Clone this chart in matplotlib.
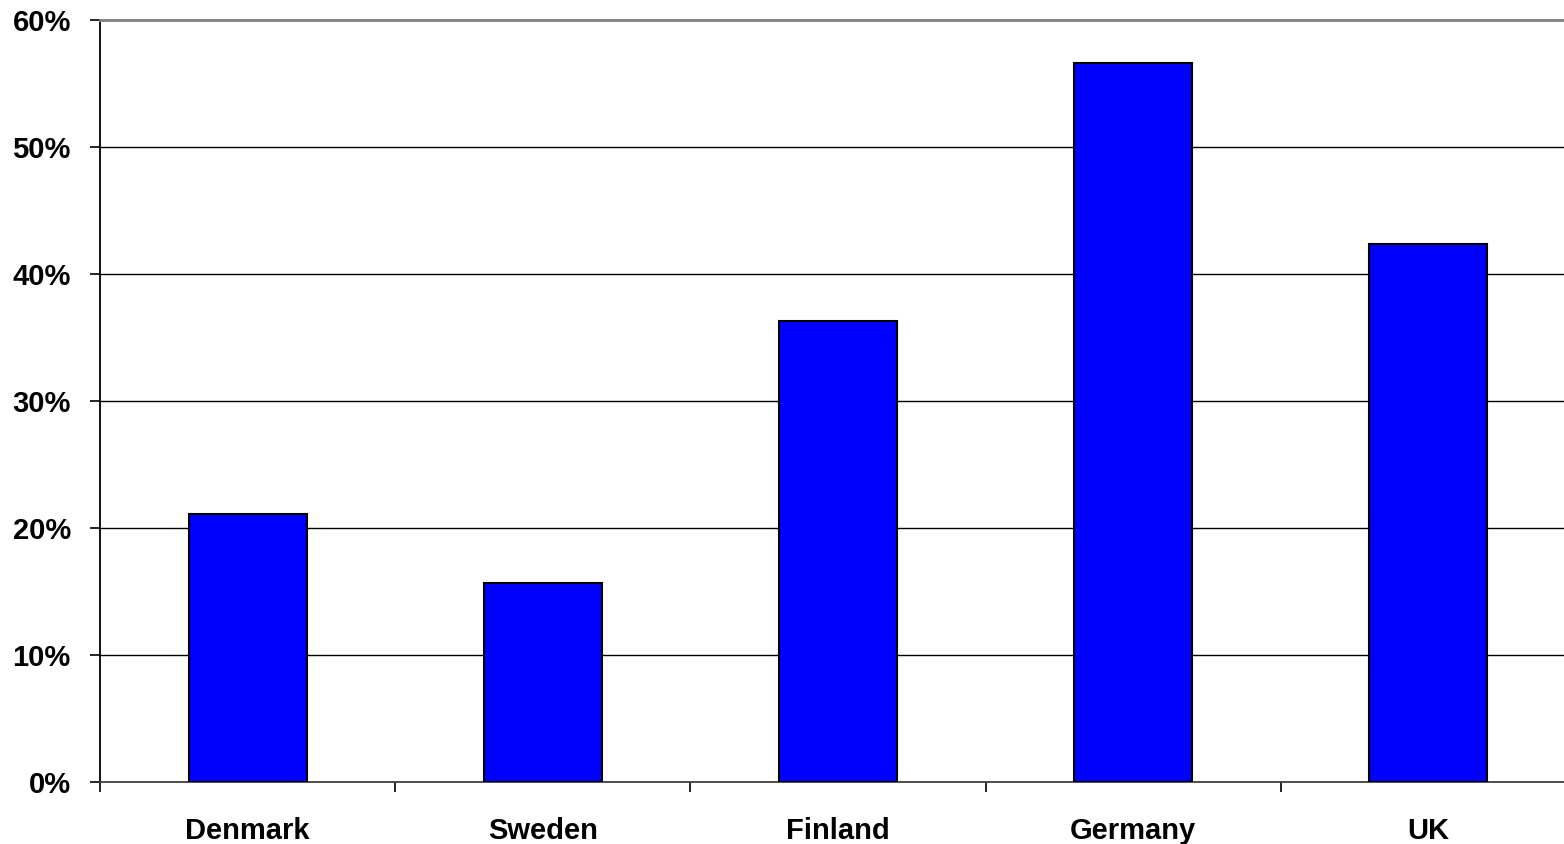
import numpy as np
import matplotlib.pyplot as plt
from matplotlib.ticker import FuncFormatter

countries = ['Denmark', 'Sweden', 'Finland', 'Germany', 'UK']
shares = [21.1, 15.7, 36.3, 56.6, 42.4]
yticks = [0, 10, 20, 30, 40, 50, 60]

plt.rcParams['font.family'] = ['Liberation Sans', 'DejaVu Sans']

fig = plt.figure(figsize=(15.64, 8.44), dpi=100)
ax = fig.add_axes([100/1564, 62/844, 1476/1564, 762/844])

x = np.arange(len(countries))
ax.bar(x, shares, width=0.4, color='#0000ff', edgecolor='black', linewidth=1.5, zorder=3)

ax.set_xlim(-0.5, len(countries) - 0.5)
ax.set_ylim(0, 60)

# gridlines
for v in yticks[1:-1]:
    ax.axhline(v, color='black', linewidth=1, zorder=1)

ax.spines['right'].set_visible(False)
ax.spines['top'].set_color('#808080')
ax.spines['top'].set_linewidth(2)
ax.spines['left'].set_linewidth(1.3)
ax.spines['bottom'].set_linewidth(1.3)
ax.spines['bottom'].set_color('#404040')

ax.set_yticks(yticks)
ax.yaxis.set_major_formatter(FuncFormatter(lambda v, p: '%d%%' % v))
ax.tick_params(axis='y', length=7, width=1.2, pad=14, labelsize=21)

ax.set_xticks(x)
ax.set_xticklabels(countries)
ax.set_xticks(np.arange(len(countries) + 1) - 0.5, minor=True)
ax.tick_params(axis='x', which='major', length=0, pad=25, labelsize=21)
ax.tick_params(axis='x', which='minor', length=7, width=1.2)

for lbl in ax.get_xticklabels() + ax.get_yticklabels():
    lbl.set_fontweight('bold')

fig.savefig('out.png', dpi=100)
